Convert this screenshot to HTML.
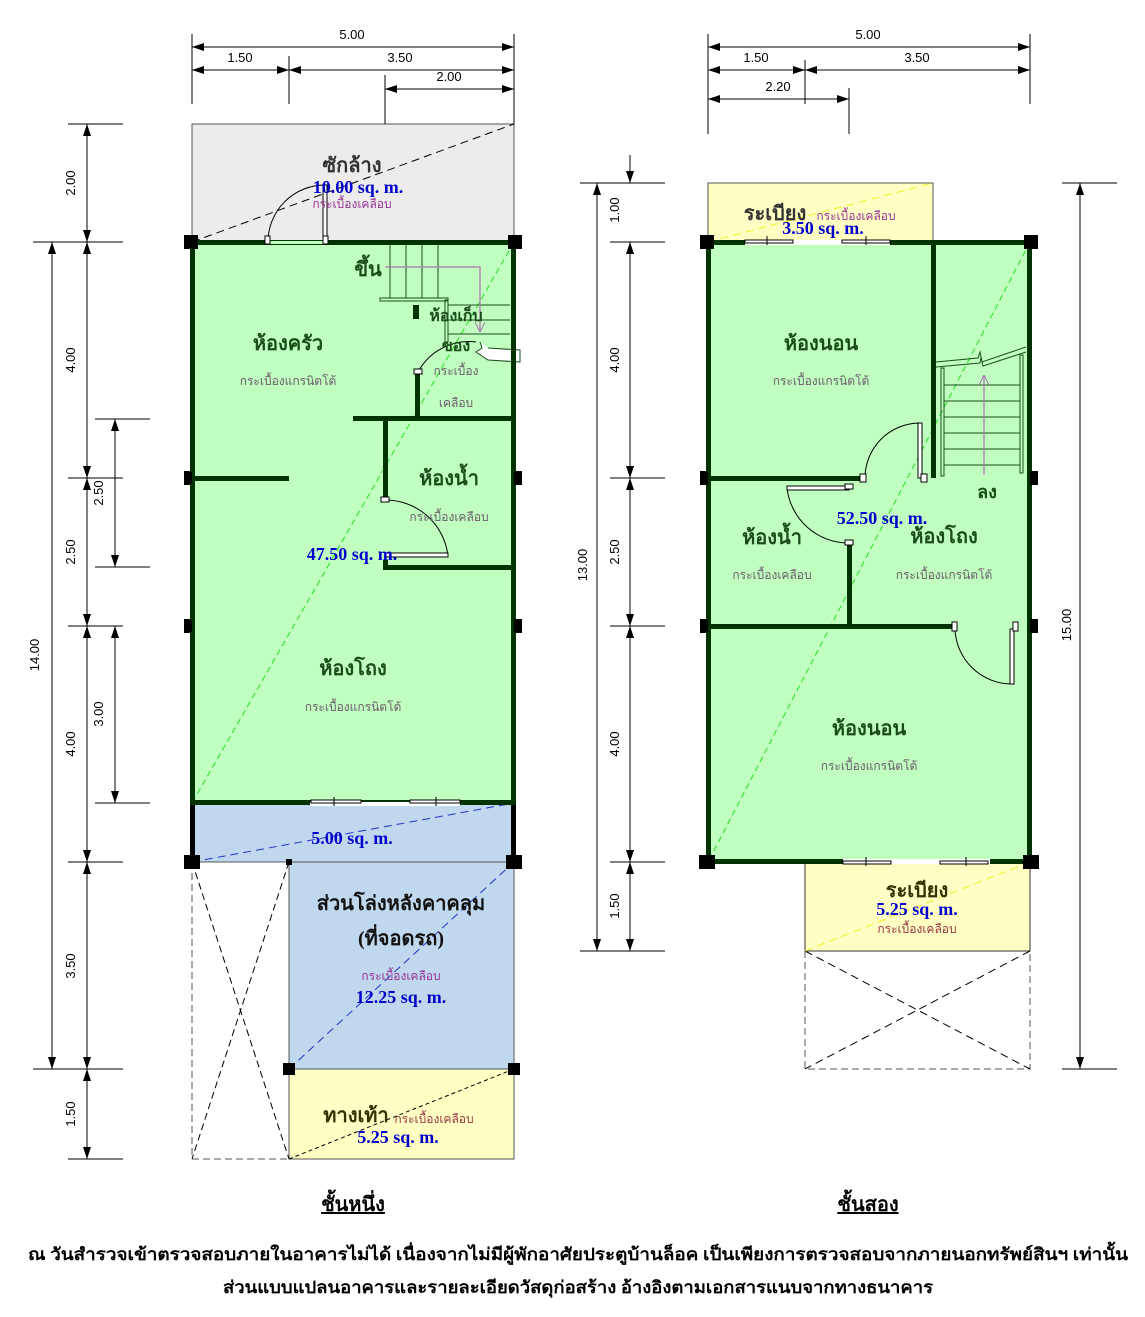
<!DOCTYPE html>
<html><head><meta charset="utf-8"><style>
html,body{margin:0;padding:0;background:#fff;width:1145px;height:1317px;overflow:hidden}
svg{display:block}
.d{font-family:"Liberation Sans",sans-serif;font-size:13px;fill:#000}
.r{font-family:"Liberation Serif",serif;font-weight:bold;font-size:20px;fill:#1b4d1b;text-anchor:middle}
.k{font-family:"Liberation Serif",serif;font-weight:bold;font-size:20px;fill:#333;text-anchor:middle}
.a{font-family:"Liberation Serif",serif;font-weight:bold;font-size:18px;fill:#0000cc;text-anchor:middle}
.s{font-family:"Liberation Serif",serif;font-size:12px;fill:#6b5b6b;text-anchor:middle}
.p{font-family:"Liberation Serif",serif;font-size:12px;fill:#993399;text-anchor:middle}
.b{font-family:"Liberation Serif",serif;font-size:12px;fill:#993344;text-anchor:middle}
.t{font-family:"Liberation Serif",serif;font-weight:bold;font-size:20px;fill:#000;text-anchor:middle;text-decoration:underline}
.f{font-family:"Liberation Serif",serif;font-weight:bold;font-size:17px;fill:#000;text-anchor:middle}
</style></head><body>
<svg width="1145" height="1317" viewBox="0 0 1145 1317" xmlns="http://www.w3.org/2000/svg">
<defs>
<marker id="ar" viewBox="0 0 12 8" refX="12" refY="4" markerWidth="12" markerHeight="8" markerUnits="userSpaceOnUse" orient="auto-start-reverse"><path d="M0,0L12,4L0,8z" fill="#000"/></marker>
<marker id="pa" viewBox="0 0 10 10" refX="10" refY="5" markerWidth="10" markerHeight="10" markerUnits="userSpaceOnUse" orient="auto"><path d="M0,0L10,5L0,10" fill="none" stroke="#b070b0"/></marker>
</defs>

<!-- ============ LEFT PLAN ============ -->
<!-- fills -->
<rect x="192" y="124" width="322" height="118" fill="#ececec" stroke="#555" stroke-width="1"/>
<rect x="192" y="242" width="322" height="561" fill="#c0ffc0"/>
<rect x="192" y="803" width="322" height="59" fill="#c0d8ee"/>
<rect x="289" y="862" width="225" height="207" fill="#c0d8ee" stroke="#555" stroke-width="1"/>
<rect x="289" y="1069" width="225" height="90" fill="#ffffc4" stroke="#555" stroke-width="1"/>
<!-- X region -->
<path d="M192,862V1159H289" fill="none" stroke="#555" stroke-dasharray="7,4"/>
<line x1="192" y1="862" x2="289" y2="1159" stroke="#000" stroke-dasharray="7,4"/>
<line x1="289" y1="862" x2="192" y2="1159" stroke="#000" stroke-dasharray="7,4"/>
<line x1="192" y1="862" x2="289" y2="862" stroke="#555"/>
<!-- diagonals -->
<line x1="192" y1="242" x2="514" y2="124" stroke="#000" stroke-dasharray="8,5"/>
<line x1="514" y1="242" x2="192" y2="803" stroke="#22dd22" stroke-dasharray="6,4"/>
<line x1="192" y1="862" x2="514" y2="803" stroke="#2233cc" stroke-dasharray="8,5"/>
<line x1="289" y1="1069" x2="514" y2="862" stroke="#2233cc" stroke-dasharray="8,5"/>
<line x1="289" y1="1159" x2="514" y2="1069" stroke="#000" stroke-dasharray="4,3"/>
<!-- stairs -->
<g stroke="#1b4d1b" stroke-width="1" fill="none">
<line x1="390" y1="245" x2="390" y2="298"/><line x1="406" y1="245" x2="406" y2="298"/><line x1="422" y1="245" x2="422" y2="298"/><line x1="438" y1="245" x2="438" y2="298"/>
<rect x="380" y="298" width="68" height="3"/><rect x="445" y="300" width="3" height="42"/>
<line x1="448" y1="305" x2="510" y2="305"/><line x1="448" y1="320" x2="510" y2="320"/><line x1="448" y1="334" x2="510" y2="334"/>
<path d="M480,342L482,348L476,352L488,360L520,362L520,350L488,348" fill="#fff" stroke="#1b4d1b"/>
</g>
<polyline points="385,267 480,267 480,332" fill="none" stroke="#b070b0" stroke-width="1.2" marker-end="url(#pa)"/>
<!-- walls -->
<g fill="#003300">
<rect x="190" y="240" width="5" height="565"/><rect x="511" y="240" width="5" height="565"/>
<rect x="190" y="240" width="326" height="5"/><rect x="190" y="800" width="326" height="5"/>
<rect x="192" y="476" width="97" height="5"/>
<rect x="353" y="416" width="161" height="5"/>
<rect x="383" y="416" width="5" height="84"/>
<rect x="383" y="565" width="131" height="5"/><rect x="383" y="560" width="5" height="10"/>
<rect x="415" y="372" width="5" height="48"/>
<rect x="413" y="305" width="6" height="14"/>
</g>
<!-- doors left -->
<g fill="none" stroke="#000" stroke-width="1">
<rect x="268" y="241" width="57" height="3" fill="#c0ffc0" stroke="none"/>
<path d="M268,242A57,57 0 0 1 325,185"/>
<rect x="323" y="185" width="4" height="55" fill="#fff"/>
<rect x="265" y="236" width="5" height="8" fill="#fff"/><rect x="323" y="236" width="5" height="8" fill="#fff"/>
<path d="M385,500A63,63 0 0 1 448,556"/>
<rect x="385" y="553" width="63" height="4" fill="#fff"/>
<rect x="381" y="497" width="8" height="5" fill="#fff"/>
<path d="M418,372A58,58 0 0 1 476,342"/>
<rect x="414" y="369" width="8" height="5" fill="#fff"/>
<rect x="310" y="802" width="150" height="4" fill="#fff" stroke="none"/>
<rect x="311" y="800" width="50" height="3" fill="#fff"/><rect x="410" y="800" width="50" height="3" fill="#fff"/>
<line x1="334" y1="797" x2="334" y2="806"/><line x1="436" y1="797" x2="436" y2="806"/>
</g>
<!-- columns -->
<g fill="#000">
<rect x="184" y="235" width="14" height="14"/><rect x="508" y="235" width="14" height="14"/>
<rect x="184" y="471" width="8" height="14"/><rect x="514" y="471" width="8" height="14"/>
<rect x="184" y="619" width="8" height="14"/><rect x="514" y="619" width="8" height="14"/>
<rect x="190" y="805" width="5" height="57"/><rect x="511" y="805" width="5" height="57"/>
<rect x="184" y="855" width="16" height="14"/><rect x="506" y="855" width="16" height="14"/>
<rect x="286" y="859" width="6" height="6"/>
<rect x="283" y="1063" width="12" height="12"/><rect x="508" y="1063" width="12" height="12"/>
</g>
<!-- left texts -->
<text class="k" x="352" y="172">ซักล้าง</text>
<text class="a" x="358" y="193">10.00 sq. m.</text>
<text class="p" x="352" y="208">กระเบื้องเคลือบ</text>
<text class="r" x="368" y="276">ขึ้น</text>
<text class="r" x="456" y="321" style="font-size:16px">ห้องเก็บ</text>
<text class="r" x="456" y="351" style="font-size:16px">ของ</text>
<text class="s" x="456" y="375">กระเบื้อง</text>
<text class="s" x="456" y="407">เคลือบ</text>
<text class="r" x="288" y="350">ห้องครัว</text>
<text class="s" x="288" y="385">กระเบื้องแกรนิตโต้</text>
<text class="r" x="449" y="485">ห้องน้ำ</text>
<text class="s" x="449" y="521">กระเบื้องเคลือบ</text>
<text class="a" x="352" y="560">47.50 sq. m.</text>
<text class="r" x="353" y="675">ห้องโถง</text>
<text class="s" x="353" y="711">กระเบื้องแกรนิตโต้</text>
<text class="a" x="352" y="844">5.00 sq. m.</text>
<text class="k" x="401" y="910" style="fill:#111">ส่วนโล่งหลังคาคลุม</text>
<text class="k" x="401" y="945" style="fill:#111">(ที่จอดรถ)</text>
<text class="p" x="401" y="980">กระเบื้องเคลือบ</text>
<text class="a" x="401" y="1003">12.25 sq. m.</text>
<text class="k" x="356" y="1122" style="fill:#333300">ทางเท้า</text>
<text class="b" x="434" y="1123">กระเบื้องเคลือบ</text>
<text class="a" x="398" y="1143">5.25 sq. m.</text>

<!-- left dimensions -->
<g stroke="#000" stroke-width="1" fill="none">
<line x1="192" y1="34" x2="192" y2="104"/><line x1="289" y1="56" x2="289" y2="104"/><line x1="514" y1="34" x2="514" y2="124"/><line x1="385" y1="75" x2="385" y2="124"/>
<line x1="192" y1="47" x2="514" y2="47" marker-start="url(#ar)" marker-end="url(#ar)"/>
<line x1="192" y1="70" x2="289" y2="70" marker-start="url(#ar)" marker-end="url(#ar)"/>
<line x1="289" y1="70" x2="514" y2="70" marker-start="url(#ar)" marker-end="url(#ar)"/>
<line x1="385" y1="89" x2="514" y2="89" marker-start="url(#ar)" marker-end="url(#ar)"/>
<line x1="68" y1="124" x2="123" y2="124"/><line x1="33" y1="242" x2="123" y2="242"/><line x1="68" y1="478" x2="123" y2="478"/><line x1="68" y1="626" x2="123" y2="626"/><line x1="68" y1="862" x2="123" y2="862"/><line x1="33" y1="1069" x2="123" y2="1069"/><line x1="68" y1="1159" x2="123" y2="1159"/>
<line x1="95" y1="419" x2="150" y2="419"/><line x1="95" y1="567" x2="150" y2="567"/><line x1="95" y1="803" x2="150" y2="803"/>
<line x1="87" y1="124" x2="87" y2="242" marker-start="url(#ar)" marker-end="url(#ar)"/>
<line x1="87" y1="242" x2="87" y2="478" marker-start="url(#ar)" marker-end="url(#ar)"/>
<line x1="87" y1="478" x2="87" y2="626" marker-start="url(#ar)" marker-end="url(#ar)"/>
<line x1="87" y1="626" x2="87" y2="862" marker-start="url(#ar)" marker-end="url(#ar)"/>
<line x1="87" y1="862" x2="87" y2="1069" marker-start="url(#ar)" marker-end="url(#ar)"/>
<line x1="87" y1="1069" x2="87" y2="1159" marker-start="url(#ar)" marker-end="url(#ar)"/>
<line x1="52" y1="242" x2="52" y2="1069" marker-start="url(#ar)" marker-end="url(#ar)"/>
<line x1="115" y1="419" x2="115" y2="567" marker-start="url(#ar)" marker-end="url(#ar)"/>
<line x1="115" y1="626" x2="115" y2="803" marker-start="url(#ar)" marker-end="url(#ar)"/>
</g>
<text class="d" x="352" y="39" text-anchor="middle">5.00</text>
<text class="d" x="240" y="62" text-anchor="middle">1.50</text>
<text class="d" x="400" y="62" text-anchor="middle">3.50</text>
<text class="d" x="449" y="81" text-anchor="middle">2.00</text>
<g class="d" text-anchor="middle">
<text transform="translate(75,183) rotate(-90)">2.00</text>
<text transform="translate(75,360) rotate(-90)">4.00</text>
<text transform="translate(75,552) rotate(-90)">2.50</text>
<text transform="translate(75,744) rotate(-90)">4.00</text>
<text transform="translate(75,966) rotate(-90)">3.50</text>
<text transform="translate(75,1114) rotate(-90)">1.50</text>
<text transform="translate(39,655) rotate(-90)">14.00</text>
<text transform="translate(103,493) rotate(-90)">2.50</text>
<text transform="translate(103,714) rotate(-90)">3.00</text>
</g>

<!-- ============ RIGHT PLAN ============ -->
<rect x="708" y="183" width="225" height="59" fill="#ffffc4" stroke="#555"/>
<rect x="708" y="242" width="322" height="620" fill="#c0ffc0"/>
<rect x="805" y="862" width="225" height="89" fill="#ffffc4" stroke="#333"/>
<path d="M805,951V1069H1030V951" fill="none" stroke="#555" stroke-dasharray="7,4"/>
<line x1="805" y1="951" x2="1030" y2="1069" stroke="#000" stroke-dasharray="8,5"/>
<line x1="1030" y1="951" x2="805" y2="1069" stroke="#000" stroke-dasharray="8,5"/>
<line x1="708" y1="242" x2="933" y2="183" stroke="#eeee22" stroke-dasharray="8,5"/>
<line x1="805" y1="951" x2="1030" y2="862" stroke="#eeee22" stroke-dasharray="8,5"/>
<line x1="1030" y1="242" x2="708" y2="862" stroke="#22dd22" stroke-dasharray="6,4"/>
<!-- stairs right -->
<g stroke="#1b4d1b" stroke-width="1" fill="none">
<rect x="941" y="368" width="3" height="108"/><rect x="1020" y="355" width="3" height="118"/>
<line x1="944" y1="385" x2="1020" y2="385"/><line x1="944" y1="401" x2="1020" y2="401"/><line x1="944" y1="417" x2="1020" y2="417"/><line x1="944" y1="433" x2="1020" y2="433"/><line x1="944" y1="449" x2="1020" y2="449"/><line x1="944" y1="465" x2="1020" y2="465"/>
<path d="M936,362L978,358L980,352L982,362L1026,347M936,367L980,363L981,357L983,366L1026,352"/>
</g>
<line x1="984" y1="475" x2="984" y2="375" stroke="#b070b0" stroke-width="1.2" marker-end="url(#pa)"/>
<!-- walls right -->
<g fill="#003300">
<rect x="706" y="240" width="5" height="624"/><rect x="1027" y="240" width="5" height="624"/>
<rect x="706" y="240" width="326" height="5"/><rect x="706" y="859" width="326" height="5"/>
<rect x="931" y="240" width="5" height="238"/>
<rect x="708" y="476" width="154" height="5"/>
<rect x="847" y="543" width="5" height="85"/>
<rect x="708" y="624" width="246" height="5"/>
</g>
<!-- doors right -->
<g fill="none" stroke="#000" stroke-width="1">
<rect x="745" y="240" width="145" height="5" fill="#fff" stroke="none"/>
<rect x="745" y="240" width="48" height="3" fill="#fff"/><rect x="842" y="240" width="48" height="3" fill="#fff"/>
<line x1="767" y1="236" x2="767" y2="245"/><line x1="866" y1="236" x2="866" y2="245"/>
<rect x="843" y="859" width="147" height="5" fill="#fff" stroke="none"/>
<rect x="843" y="861" width="48" height="3" fill="#fff"/><rect x="940" y="861" width="48" height="3" fill="#fff"/>
<line x1="866" y1="857" x2="866" y2="866"/><line x1="966" y1="857" x2="966" y2="866"/>
<path d="M865,478A55,55 0 0 1 920,423"/>
<rect x="918" y="423" width="4" height="55" fill="#fff"/>
<rect x="860" y="474" width="6" height="8" fill="#fff"/><rect x="921" y="474" width="6" height="8" fill="#fff"/>
<path d="M787,488A62,62 0 0 0 849,543"/>
<rect x="787" y="486" width="62" height="4" fill="#fff"/>
<rect x="845" y="484" width="8" height="5" fill="#fff"/><rect x="845" y="540" width="8" height="5" fill="#fff"/>
<path d="M955,629A57,57 0 0 0 1012,684"/>
<rect x="1010" y="629" width="4" height="55" fill="#fff"/>
<rect x="952" y="622" width="5" height="9" fill="#fff"/><rect x="1013" y="622" width="5" height="9" fill="#fff"/>
</g>
<g fill="#000">
<rect x="700" y="235" width="14" height="14"/><rect x="1024" y="235" width="14" height="14"/>
<rect x="700" y="471" width="8" height="14"/><rect x="1030" y="471" width="8" height="14"/>
<rect x="700" y="619" width="8" height="14"/><rect x="1030" y="619" width="8" height="14"/>
<rect x="699" y="855" width="16" height="14"/><rect x="1023" y="855" width="16" height="14"/>
</g>
<!-- right texts -->
<text class="k" x="775" y="220">ระเบียง</text>
<text class="p" x="856" y="220">กระเบื้องเคลือบ</text>
<text class="a" x="823" y="234">3.50 sq. m.</text>
<text class="r" x="821" y="350">ห้องนอน</text>
<text class="s" x="821" y="385">กระเบื้องแกรนิตโต้</text>
<text class="r" x="987" y="498" style="font-size:18px">ลง</text>
<text class="a" x="882" y="524">52.50 sq. m.</text>
<text class="r" x="772" y="544">ห้องน้ำ</text>
<text class="s" x="772" y="579">กระเบื้องเคลือบ</text>
<text class="r" x="944" y="543">ห้องโถง</text>
<text class="s" x="944" y="579">กระเบื้องแกรนิตโต้</text>
<text class="r" x="869" y="735">ห้องนอน</text>
<text class="s" x="869" y="770">กระเบื้องแกรนิตโต้</text>
<text class="k" x="917" y="897" style="fill:#333300">ระเบียง</text>
<text class="a" x="917" y="915">5.25 sq. m.</text>
<text class="b" x="917" y="933">กระเบื้องเคลือบ</text>

<!-- right dimensions -->
<g stroke="#000" stroke-width="1" fill="none">
<line x1="708" y1="34" x2="708" y2="134"/><line x1="805" y1="60" x2="805" y2="104"/><line x1="849" y1="88" x2="849" y2="134"/><line x1="1030" y1="34" x2="1030" y2="104"/>
<line x1="708" y1="47" x2="1030" y2="47" marker-start="url(#ar)" marker-end="url(#ar)"/>
<line x1="708" y1="70" x2="805" y2="70" marker-start="url(#ar)" marker-end="url(#ar)"/>
<line x1="805" y1="70" x2="1030" y2="70" marker-start="url(#ar)" marker-end="url(#ar)"/>
<line x1="708" y1="99" x2="849" y2="99" marker-start="url(#ar)" marker-end="url(#ar)"/>
<line x1="580" y1="183" x2="665" y2="183"/><line x1="610" y1="242" x2="665" y2="242"/><line x1="610" y1="478" x2="665" y2="478"/><line x1="610" y1="626" x2="665" y2="626"/><line x1="610" y1="862" x2="665" y2="862"/><line x1="580" y1="951" x2="665" y2="951"/>
<line x1="1062" y1="183" x2="1117" y2="183"/><line x1="1062" y1="1069" x2="1117" y2="1069"/>
<line x1="630" y1="155" x2="630" y2="183" marker-end="url(#ar)"/>
<line x1="630" y1="242" x2="630" y2="478" marker-start="url(#ar)" marker-end="url(#ar)"/>
<line x1="630" y1="478" x2="630" y2="626" marker-start="url(#ar)" marker-end="url(#ar)"/>
<line x1="630" y1="626" x2="630" y2="862" marker-start="url(#ar)" marker-end="url(#ar)"/>
<line x1="630" y1="862" x2="630" y2="951" marker-start="url(#ar)" marker-end="url(#ar)"/>
<line x1="597" y1="183" x2="597" y2="951" marker-start="url(#ar)" marker-end="url(#ar)"/>
<line x1="1080" y1="183" x2="1080" y2="1069" marker-start="url(#ar)" marker-end="url(#ar)"/>
</g>
<g class="d" text-anchor="middle">
<text x="868" y="39">5.00</text>
<text x="756" y="62">1.50</text>
<text x="917" y="62">3.50</text>
<text x="778" y="91">2.20</text>
<text transform="translate(619,210) rotate(-90)">1.00</text>
<text transform="translate(619,360) rotate(-90)">4.00</text>
<text transform="translate(619,552) rotate(-90)">2.50</text>
<text transform="translate(619,744) rotate(-90)">4.00</text>
<text transform="translate(619,906) rotate(-90)">1.50</text>
<text transform="translate(587,565) rotate(-90)">13.00</text>
<text transform="translate(1071,625) rotate(-90)">15.00</text>
</g>

<!-- titles/footer -->
<text class="t" x="353" y="1211">ชั้นหนึ่ง</text>
<text class="t" x="868" y="1211">ชั้นสอง</text>
<text class="f" x="578" y="1260" textLength="1100" lengthAdjust="spacingAndGlyphs">ณ วันสำรวจเข้าตรวจสอบภายในอาคารไม่ได้ เนื่องจากไม่มีผู้พักอาศัยประตูบ้านล็อค เป็นเพียงการตรวจสอบจากภายนอกทรัพย์สินฯ เท่านั้น</text>
<text class="f" x="578" y="1293" textLength="710" lengthAdjust="spacingAndGlyphs">ส่วนแบบแปลนอาคารและรายละเอียดวัสดุก่อสร้าง  อ้างอิงตามเอกสารแนบจากทางธนาคาร</text>
</svg>
</body></html>
